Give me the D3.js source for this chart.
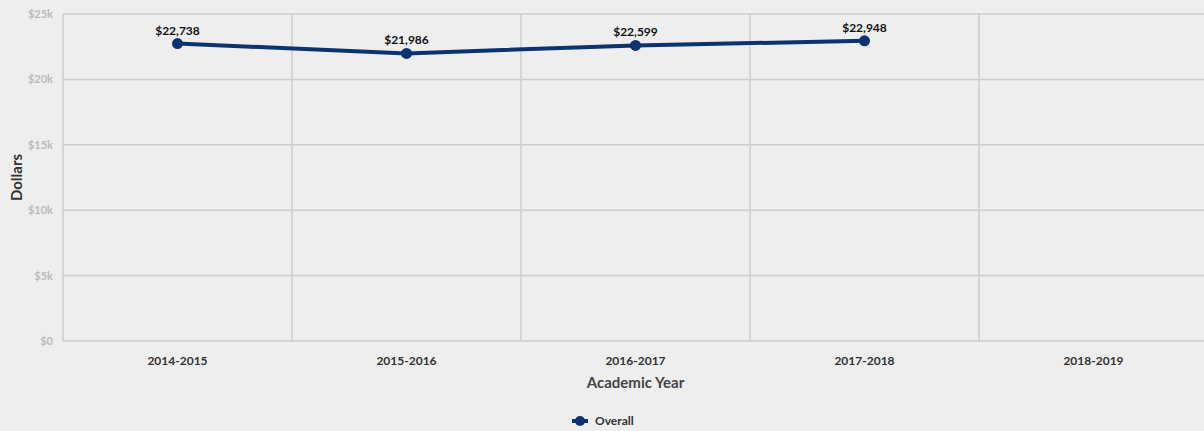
<!DOCTYPE html>
<html lang="en">
    <head>
        <meta charset="utf-8">
        <title>Academic Year Dollars</title>
        <script src="https://d3js.org/d3.v7.min.js"></script>
        <style>
            body { margin: 0; background: #eeeeee; }
            text { font-family: "Lato", "Open Sans", sans-serif; font-weight: bold; }
        </style>
    </head>
    <body>
        <div id="dataviz"></div>
        <script>
            var years = ["2014-2015", "2015-2016", "2016-2017", "2017-2018", "2018-2019"];
            var overall = [22738, 21986, 22599, 22948, null];
            var yTicks = [0, 5000, 10000, 15000, 20000, 25000];
            var seriesName = "Overall";

            var margin = {top: 14, right: -4, bottom: 90, left: 63},
                width = 1204 - margin.left - margin.right,
                height = 431 - margin.top - margin.bottom;

            var svg = d3.select("#dataviz")
                        .append("svg")
                        .attr("width", 1204)
                        .attr("height", 431)
                        .style("background", "#eeeeee")
                        .append("g")
                        .attr("transform", "translate(" + margin.left + "," + margin.top + ")");

            var x = d3.scaleBand().domain(years).range([0, width]);
            var y = d3.scaleLinear().domain([0, 25000]).range([height, 0]);

            // horizontal grid
            svg.selectAll(".hgrid")
                .data(yTicks).enter()
                .append("line")
                .attr("x1", 0).attr("x2", width)
                .attr("y1", function(d) { return y(d); })
                .attr("y2", function(d) { return y(d); })
                .style("stroke", "#cccccc")
                .style("stroke-width", 1.5);

            // vertical grid at band edges
            svg.selectAll(".vgrid")
                .data(years).enter()
                .append("line")
                .attr("x1", function(d) { return x(d); })
                .attr("x2", function(d) { return x(d); })
                .attr("y1", 0).attr("y2", height)
                .style("stroke", "#cccccc")
                .style("stroke-width", 1.5);

            // y axis labels
            svg.selectAll(".ylab")
                .data(yTicks).enter()
                .append("text")
                .attr("x", -10)
                .attr("y", function(d) { return y(d) + 4; })
                .style("text-anchor", "end")
                .style("font-size", "11px")
                .style("fill", "#bbbbbb")
                .text(function(d) { return d === 0 ? "$0" : "$" + (d / 1000) + "k"; });

            // x axis labels
            svg.selectAll(".xlab")
                .data(years).enter()
                .append("text")
                .attr("x", function(d) { return x(d) + x.bandwidth() / 2; })
                .attr("y", height + 24)
                .style("text-anchor", "middle")
                .style("font-size", "12px")
                .style("fill", "#333333")
                .text(function(d) { return d; });

            svg.append("text")
                .attr("x", 635.5 - margin.left)
                .attr("y", height + 47)
                .style("text-anchor", "middle")
                .style("font-size", "15px")
                .style("fill", "#444444")
                .text("Academic Year");

            svg.append("text")
                .attr("transform", "translate(" + (22 - margin.left) + "," + (height / 2) + ") rotate(-90)")
                .style("text-anchor", "middle")
                .style("font-size", "15px")
                .style("fill", "#333333")
                .text("Dollars");

            var pts = years.map(function(d, i) { return {year: d, value: overall[i]}; })
                           .filter(function(d) { return d.value != null; });

            var line = d3.line()
                         .x(function(d) { return x(d.year) + x.bandwidth() / 2; })
                         .y(function(d) { return y(d.value); });

            svg.append("path")
                .datum(pts)
                .attr("d", line)
                .style("fill", "none")
                .style("stroke", "#0b3370")
                .style("stroke-width", 4);

            svg.selectAll(".dot")
                .data(pts).enter()
                .append("circle")
                .attr("cx", function(d) { return x(d.year) + x.bandwidth() / 2; })
                .attr("cy", function(d) { return y(d.value); })
                .attr("r", 5.5)
                .style("fill", "#0b3370");

            svg.selectAll(".vlab")
                .data(pts).enter()
                .append("text")
                .attr("x", function(d) { return x(d.year) + x.bandwidth() / 2; })
                .attr("y", function(d) { return y(d.value) - 9; })
                .style("text-anchor", "middle")
                .style("font-size", "12px")
                .style("fill", "#111111")
                .text(function(d) { return "$" + d3.format(",")(d.value); });

            // legend
            var lg = svg.append("g").attr("transform", "translate(" + (580 - margin.left) + "," + (421 - margin.top) + ")");
            lg.append("line").attr("x1", -8).attr("x2", 8).attr("y1", 0).attr("y2", 0)
                .style("stroke", "#0b3370").style("stroke-width", 4);
            lg.append("circle").attr("r", 5).style("fill", "#0b3370");
            lg.append("text").attr("x", 15).attr("y", 4)
                .style("font-size", "12px").style("fill", "#333333").text(seriesName);
        </script>
    </body>
</html>
